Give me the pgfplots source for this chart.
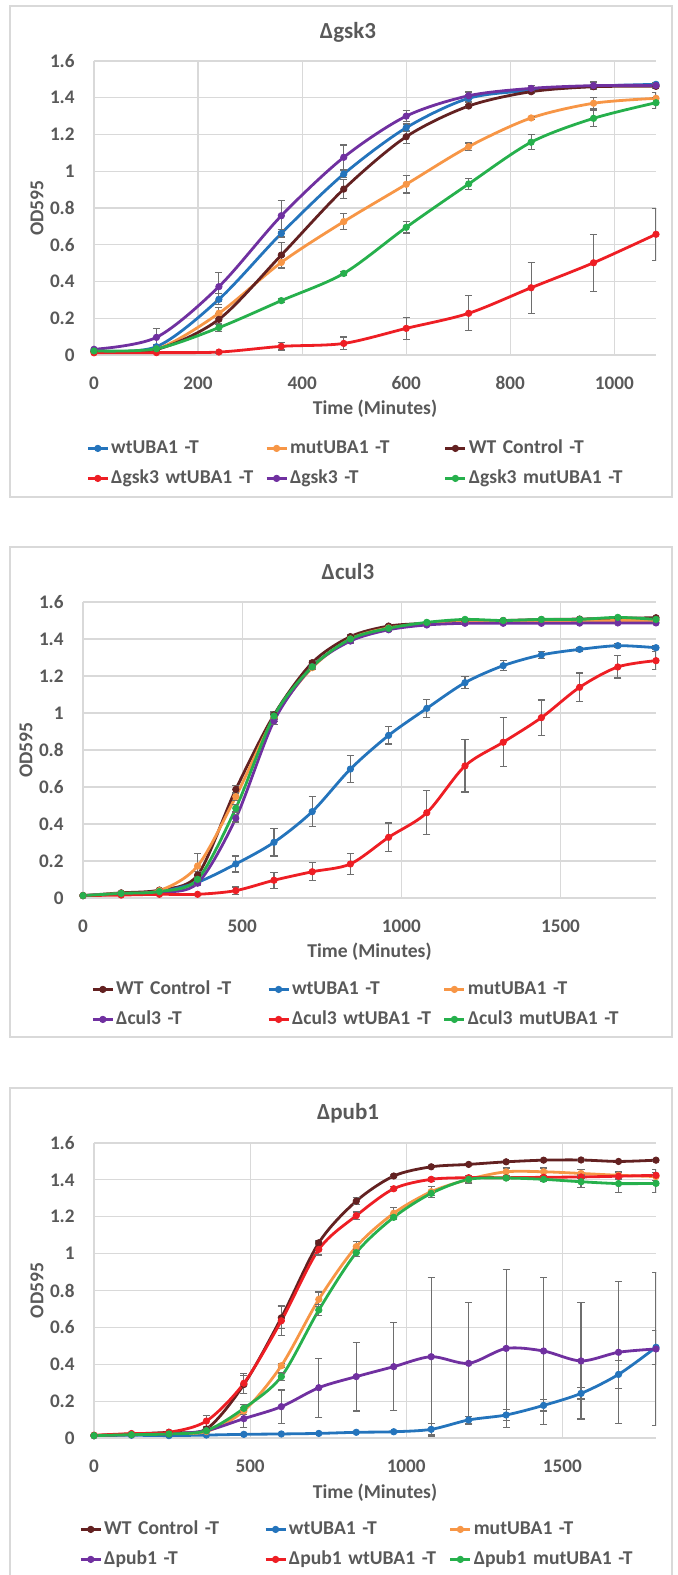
\documentclass[border=0pt]{standalone}
\usepackage{pgfplots}
\usepackage{pgfplotstable}
\usepackage{fontspec}
\setmainfont{Carlito}
\pgfplotsset{compat=1.18}

\definecolor{cblue}{RGB}{36,116,188}
\definecolor{corange}{RGB}{247,150,70}
\definecolor{cbrown}{RGB}{99,33,33}
\definecolor{cred}{RGB}{238,30,36}
\definecolor{cpurple}{RGB}{112,48,160}
\definecolor{cgreen}{RGB}{38,176,76}
\definecolor{ctext}{RGB}{89,89,89}
\definecolor{cgrid}{RGB}{217,217,217}
\definecolor{cerr}{RGB}{110,110,110}

% Delta gsk3
\pgfplotstableread{
t    wt    wte   mut   mute  ctl   ctle  dwt   dwte  d     de    dmut  dmute
0    0.022 0     0.020 0     0.020 0     0.012 0     0.031 0     0.022 0
120  0.045 0.01  0.032 0     0.030 0     0.013 0.005 0.096 0.05  0.034 0.01
240  0.303 0.03  0.227 0.03  0.194 0.03  0.016 0.005 0.372 0.078 0.149 0.02
360  0.662 0.02  0.504 0.035 0.544 0.07  0.047 0.02  0.758 0.085 0.296 0.01
480  0.985 0.02  0.726 0.045 0.903 0.05  0.063 0.035 1.076 0.067 0.444 0.012
600  1.237 0.02  0.929 0.047 1.188 0.035 0.145 0.06  1.300 0.029 0.695 0.031
720  1.397 0.02  1.134 0.02  1.355 0.01  0.227 0.095 1.411 0.02  0.931 0.03
840  1.440 0.01  1.290 0.01  1.433 0.01  0.366 0.138 1.451 0.015 1.158 0.04
960  1.463 0.02  1.370 0.03  1.460 0.01  0.502 0.156 1.466 0.02  1.288 0.045
1080 1.473 0.01  1.397 0.03  1.462 0.01  0.657 0.142 1.467 0.01  1.373 0.03
}\gsk

% Delta cul3
\pgfplotstableread{
t    ctl   ctle  wt    wte   mut   mute  d     de    dwt   dwte  dmut  dmute
0    0.013 0     0.013 0     0.013 0     0.013 0     0.013 0     0.013 0
120  0.028 0     0.022 0     0.025 0     0.022 0     0.016 0     0.025 0
240  0.043 0.01  0.033 0     0.040 0     0.030 0     0.020 0     0.035 0
360  0.124 0.02  0.085 0.01  0.173 0.068 0.080 0.01  0.020 0.005 0.101 0.01
480  0.587 0.02  0.184 0.043 0.548 0.02  0.431 0.02  0.040 0.02  0.485 0.02
600  0.990 0.02  0.301 0.074 0.975 0.02  0.957 0.02  0.096 0.043 0.984 0.02
720  1.272 0.01  0.467 0.081 1.245 0.01  1.250 0.01  0.142 0.048 1.250 0.01
840  1.413 0.01  0.697 0.073 1.400 0.01  1.389 0.01  0.184 0.056 1.400 0.01
960  1.470 0.01  0.879 0.047 1.460 0.01  1.450 0.01  0.328 0.078 1.458 0.01
1080 1.485 0     1.025 0.05  1.480 0     1.476 0     0.461 0.119 1.490 0
1200 1.495 0     1.164 0.033 1.490 0     1.485 0     0.714 0.141 1.506 0
1320 1.500 0     1.256 0.028 1.490 0     1.485 0     0.842 0.132 1.500 0
1440 1.505 0     1.314 0.018 1.492 0     1.485 0     0.975 0.095 1.506 0
1560 1.508 0     1.344 0.01  1.495 0     1.486 0     1.139 0.077 1.506 0
1680 1.512 0     1.364 0.01  1.500 0     1.487 0     1.249 0.06  1.517 0
1800 1.515 0     1.353 0.01  1.500 0     1.487 0     1.283 0.048 1.506 0
}\cul

% Delta pub1
\pgfplotstableread{
t    ctl   ctle  wt    wte   mut   mute  d     de    dwt   dwte  dmut  dmute
0    0.013 0     0.013 0     0.013 0     0.013 0     0.015 0     0.013 0
120  0.022 0     0.015 0     0.020 0     0.018 0     0.024 0     0.018 0
240  0.031 0     0.013 0     0.025 0     0.022 0     0.031 0     0.022 0
360  0.049 0.01  0.016 0     0.035 0     0.040 0.01  0.092 0.03  0.040 0.01
480  0.290 0.05  0.020 0     0.147 0.02  0.105 0.05  0.297 0.054 0.161 0.02
600  0.652 0.06  0.022 0     0.392 0.01  0.170 0.09  0.636 0.08  0.333 0.02
720  1.059 0.01  0.025 0     0.752 0.04  0.273 0.16  1.023 0.03  0.694 0.03
840  1.285 0.02  0.031 0     1.038 0.03  0.333 0.186 1.206 0.02  1.005 0.02
960  1.421 0.01  0.034 0     1.219 0.03  0.387 0.239 1.352 0.01  1.197 0.01
1080 1.471 0     0.047 0.03  1.336 0.03  0.441 0.43  1.403 0.01  1.327 0.01
1200 1.484 0     0.098 0.02  1.403 0.02  0.405 0.33  1.412 0.01  1.403 0.02
1320 1.498 0     0.125 0.03  1.444 0.02  0.486 0.43  1.412 0.01  1.410 0.01
1440 1.507 0     0.177 0.03  1.444 0.02  0.472 0.40  1.414 0.01  1.403 0.01
1560 1.508 0     0.242 0.03  1.435 0.02  0.418 0.315 1.416 0.01  1.390 0.03
1680 1.500 0     0.345 0.075 1.425 0.02  0.465 0.386 1.420 0.02  1.380 0.05
1800 1.507 0     0.492 0.092 1.418 0.02  0.483 0.415 1.425 0.03  1.381 0.05
}\pub

\pgfplotsset{
  growth/.style={
    scale only axis, anchor=south west,
    xmin=0, ymin=0, ymax=1.6,
    ytick={0,0.2,0.4,0.6,0.8,1,1.2,1.4,1.6},
    grid=major, major grid style={cgrid, line width=0.6pt},
    axis line style={draw=none},
    major tick length=0pt,
    /pgf/number format/assume math mode=true,
    /pgf/number format/1000 sep={},
    tick label style={font=\bfseries\fontsize{9.6}{11}\selectfont, text=ctext},
    yticklabel style={inner xsep=0pt, xshift=-9.5pt},
    xticklabel style={inner ysep=0pt, yshift=-10.5pt},
    label style={font=\bfseries\fontsize{9.8}{11}\selectfont, text=ctext},
    xlabel={Time (Minutes)}, ylabel={OD595},
    legend columns=3,
    legend style={draw=none, fill=none, inner sep=0pt, anchor=north west,
      font=\bfseries\fontsize{9.8}{11}\selectfont, text=ctext,
      nodes={inner xsep=0pt, inner ysep=3pt, text height=7pt, text depth=2pt, anchor=west,
        execute at begin node={\hbox\bgroup}, execute at end node={\egroup}},
      /tikz/every odd column/.append style={column sep=1pt},
      /tikz/every even column/.append style={column sep=1pt}},
    legend image code/.code={
      \draw[mark repeat=2, mark phase=2, #1] plot coordinates {(0pt,0pt) (5pt,0pt) (10pt,0pt)};
    },
    every axis plot/.append style={line width=1.4pt, smooth, mark=*, mark size=1.6pt,
      mark options={line width=0.4pt, solid}},
  },
  eb/.style={error bars/.cd, y dir=both, y explicit,
    error bar style={cerr, line width=0.6pt},
    error mark options={cerr, rotate=90, mark size=1.8pt, line width=0.6pt}},
}

\newcommand{\charttitle}[1]{\bfseries\fontsize{11.5}{13}\selectfont\color{ctext}#1}

\begin{document}
\begin{tikzpicture}
\path[use as bounding box] (0pt,0pt) rectangle (338.5pt,-787.5pt);
\draw[cgrid, line width=0.75pt] (5pt,-3pt) rectangle (336pt,-248.5pt);
\draw[cgrid, line width=0.75pt] (5pt,-273.5pt) rectangle (336pt,-518.5pt);
\draw[cgrid, line width=0.75pt] (5pt,-544pt) rectangle (336pt,-800pt);

\node at (174pt,-16pt) {\charttitle{Δgsk3}};
\node at (174pt,-286pt) {\charttitle{Δcul3}};
\node at (174pt,-556.5pt) {\charttitle{Δpub1}};

% Delta gsk3
\begin{axis}[growth, at={(47pt,-177.5pt)}, width=281pt, height=147pt,
  xmax=1080, xtick={0,200,...,1000},
  xlabel style={at={(axis description cs:0.5,-0.1837)}, anchor=center},
  ylabel style={at={(axis description cs:-0.1014,0.5)}, anchor=center},
  legend style={at={(-0.0142,-0.2653)}, nodes={text width=76pt}}]
  \addplot[cblue, eb] table[x=t, y=wt, y error=wte] {\gsk};
  \addplot[corange, eb] table[x=t, y=mut, y error=mute] {\gsk};
  \addplot[cbrown, eb] table[x=t, y=ctl, y error=ctle] {\gsk};
  \addplot[cred, eb] table[x=t, y=dwt, y error=dwte] {\gsk};
  \addplot[cpurple, eb] table[x=t, y=d, y error=de] {\gsk};
  \addplot[cgreen, eb] table[x=t, y=dmut, y error=dmute] {\gsk};
  \legend{wtUBA1 -T, mutUBA1 -T, WT Control -T, Δgsk3 wtUBA1 -T, Δgsk3 -T, Δgsk3 mutUBA1 -T}
\end{axis}

% Delta cul3
\begin{axis}[growth, at={(41.5pt,-449pt)}, width=286.5pt, height=148pt,
  xmax=1800, xtick={0,500,1000,1500},
  xlabel style={at={(axis description cs:0.5,-0.1824)}, anchor=center},
  ylabel style={at={(axis description cs:-0.0995,0.5)}, anchor=center},
  legend style={at={(0.014,-0.2568)}, nodes={text width=74.5pt}}]
  \addplot[cbrown, eb] table[x=t, y=ctl, y error=ctle] {\cul};
  \addplot[cblue, eb] table[x=t, y=wt, y error=wte] {\cul};
  \addplot[corange, eb] table[x=t, y=mut, y error=mute] {\cul};
  \addplot[cpurple, eb] table[x=t, y=d, y error=de] {\cul};
  \addplot[cred, eb] table[x=t, y=dwt, y error=dwte] {\cul};
  \addplot[cgreen, eb] table[x=t, y=dmut, y error=dmute] {\cul};
  \legend{WT Control -T, wtUBA1 -T, mutUBA1 -T, Δcul3 -T, Δcul3 wtUBA1 -T, Δcul3 mutUBA1 -T}
\end{axis}

% Delta pub1
\begin{axis}[growth, at={(47pt,-719pt)}, width=281pt, height=147.5pt,
  xmax=1800, xtick={0,500,1000,1500},
  xlabel style={at={(axis description cs:0.5,-0.1864)}, anchor=center},
  ylabel style={at={(axis description cs:-0.1014,0.5)}, anchor=center},
  legend style={at={(-0.0267,-0.2576)}, nodes={text width=79pt}}]
  \addplot[cbrown, eb] table[x=t, y=ctl, y error=ctle] {\pub};
  \addplot[cblue, eb] table[x=t, y=wt, y error=wte] {\pub};
  \addplot[corange, eb] table[x=t, y=mut, y error=mute] {\pub};
  \addplot[cpurple, eb] table[x=t, y=d, y error=de] {\pub};
  \addplot[cred, eb] table[x=t, y=dwt, y error=dwte] {\pub};
  \addplot[cgreen, eb] table[x=t, y=dmut, y error=dmute] {\pub};
  \legend{WT Control -T, wtUBA1 -T, mutUBA1 -T, Δpub1 -T, Δpub1 wtUBA1 -T, Δpub1 mutUBA1 -T}
\end{axis}
\end{tikzpicture}
\end{document}
